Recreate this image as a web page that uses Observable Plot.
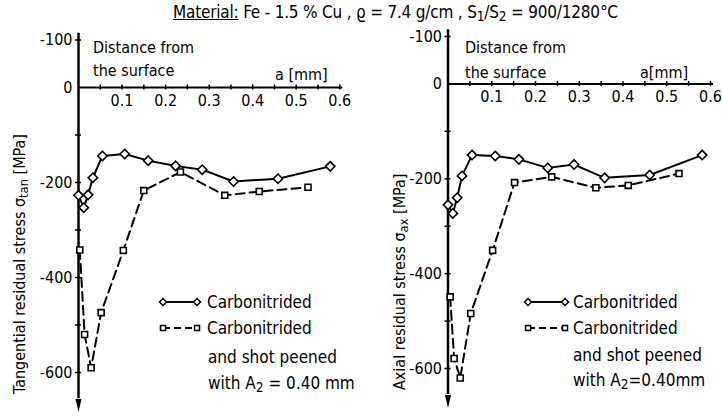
<!DOCTYPE html>
<html><head><meta charset="utf-8">
<script src="https://cdn.jsdelivr.net/npm/d3@7"></script>
<script src="https://cdn.jsdelivr.net/npm/@observablehq/plot@0.6"></script>
<style>
body{margin:0;background:#fff;}
#wrap{position:relative;width:723px;height:419px;overflow:hidden;background:#fff;font-family:"DejaVu Sans Condensed","DejaVu Sans",sans-serif;color:#000;}
.t{position:absolute;white-space:nowrap;font-size:16px;line-height:1;}
.rot{transform-origin:0 0;transform:rotate(-90deg);}
sub{font-size:0.8em;vertical-align:-0.25em;line-height:0;}
.panel{position:absolute;top:25px;}
.panel svg{overflow:visible;}
</style>
</head><body>
<div id="wrap"></div>
<script>
// ---- data ----
const distTanC = [0.000,0.012,0.022,0.033,0.055,0.106,0.160,0.223,0.284,0.356,0.458,0.578];
const tanC     = [-227,-253,-226,-190,-144,-140,-154,-165,-173,-198,-192,-166];
const distTanP = [0.003,0.014,0.029,0.052,0.103,0.150,0.234,0.336,0.415,0.527];
const tanP     = [-342,-520,-590,-474,-343,-217,-178,-227,-219,-210];
const distAxC  = [0.000,0.011,0.021,0.032,0.055,0.108,0.162,0.228,0.288,0.358,0.461,0.581];
const axC      = [-255,-273,-240,-194,-150,-152,-159,-177,-170,-198,-192,-150];
const distAxP  = [0.005,0.014,0.028,0.052,0.102,0.152,0.237,0.338,0.412,0.528];
const axP      = [-449,-579,-620,-484,-351,-208,-196,-219,-214,-189];
const xTicks   = [0.05,0.1,0.15,0.2,0.25,0.3,0.35,0.4,0.45,0.5,0.55,0.6];
const xLabels  = [0.1,0.2,0.3,0.4,0.5,0.6];
const yTicks   = [100,-100,-200,-300,-400,-500,-600];
const yLabelValues = [100,0,-200,-400,-600];
const yLabelTexts  = ["-100","0","-200","-400","-600"];
const seriesNames = ["Carbonitrided","Carbonitrided"];

const FONT = '"DejaVu Sans Condensed","DejaVu Sans",sans-serif';
const arrowSym = {draw(ctx, size){const r=Math.sqrt(size/Math.PI);ctx.moveTo(0,r*2);ctx.lineTo(-r*0.6,-r*0.6);ctx.lineTo(r*0.6,-r*0.6);ctx.closePath();}};

function pts(xs, ys){ return xs.map((x,i)=>({x, y: ys[i]})); }

function panel(c, p, m){
  const C = pts(c[0], c[1]), P = pts(p[0], p[1]);
  const YL = yLabelValues.map((v,i)=>({v, t: yLabelTexts[i]}));
  return Plot.plot({
    width: m.width, height: m.height,
    marginLeft: m.ml, marginRight: m.mr, marginTop: m.mt, marginBottom: m.mb,
    x: {domain:[0,0.6], axis:null},
    y: {domain:[-600,100], axis:null},
    style: {fontFamily: FONT, fontSize: "15px", background: "transparent", color:"#000"},
    marks: [
      Plot.ruleY([0], {x1:0, x2:0.607, strokeWidth:2, stroke:"#000"}),
      Plot.ruleX(xTicks, {x:d=>d, y1:0, y2:0, insetTop:-2.5, insetBottom:-2.5, strokeWidth:1.5, stroke:"#000"}),
      Plot.text(xLabels, {x:d=>d, y:0, dy:13, text:d=>d.toFixed(1), fontSize:16}),
      Plot.ruleX([0], {y1:114, y2:-655, strokeWidth:2.5, stroke:"#000"}),
      Plot.dot([0], {x:0, y:-662, symbol:arrowSym, r:5, fill:"#000", stroke:"none"}),
      Plot.ruleY(yTicks, {y:d=>d, x1:0, x2:0, insetLeft:-3, insetRight:-3, strokeWidth:1.5, stroke:"#000"}),
      Plot.text(YL, {x:0, y:"v", dx:-6, textAnchor:"end", text:"t", fontSize:16}),
      Plot.line(P, {x:"x", y:"y", stroke:"#000", strokeWidth:2, strokeDasharray:"9,5"}),
      Plot.line(C, {x:"x", y:"y", stroke:"#000", strokeWidth:2}),
      Plot.dot(P, {x:"x", y:"y", symbol:"square2", r:3.8, stroke:"#000", strokeWidth:1.6, fill:"#fff"}),
      Plot.dot(C, {x:"x", y:"y", symbol:"diamond2", r:4.2, stroke:"#000", strokeWidth:1.6, fill:"#fff"})
    ]
  });
}

const wrap = document.getElementById("wrap");
function addText(html, left, cy, cls, size){
  const d = document.createElement("div");
  d.className = "t" + (cls ? " " + cls : "");
  d.innerHTML = html;
  const fs = size || 16;
  d.style.fontSize = fs + "px";
  d.style.left = left + "px";
  d.style.top = (cls === "rot" ? cy : (cy - fs*0.5)) + "px";
  wrap.appendChild(d);
  return d;
}

// title
const ttl = addText('<span style="text-decoration:underline">Material:</span> Fe - 1.5 % Cu , ϱ = 7.4 g/cm , S<sub>1</sub>/S<sub>2</sub> = 900/1280°C', 173, 12, null, 17);
ttl.style.letterSpacing = "-0.2px";

// left panel
const L = document.createElement("div"); L.className = "panel"; L.style.left = "0px";
L.appendChild(panel([distTanC, tanC], [distTanP, tanP], {width:362, height:394, ml:78, mr:22.7, mt:14.5, mb:47}));
wrap.appendChild(L);
// right panel
const R = document.createElement("div"); R.className = "panel"; R.style.left = "362px";
R.appendChild(panel([distAxC, axC], [distAxP, axP], {width:361, height:394, ml:85.5, mr:13, mt:11, mb:51}));
wrap.appendChild(R);

// axis titles
addText('Tangential residual stress σ<sub>tan</sub> [MPa]', 12, 394, "rot", 16);
addText('Axial residual stress σ<sub>ax</sub> [MPa]', 392, 390, "rot", 16);

// annotations
addText('Distance from', 93, 48); addText('the surface', 93, 71); addText('a [mm]', 275, 75);
addText('Distance from', 465, 48); addText('the surface', 465, 73); addText('a[mm]', 640, 73);

// legends
function legendSwatch(x1, x2, y, dashed){
  const ns = "http://www.w3.org/2000/svg";
  const s = document.createElementNS(ns, "svg");
  s.setAttribute("width", x2 - x1 + 12); s.setAttribute("height", 12);
  s.style.position = "absolute"; s.style.left = (x1 - 6) + "px"; s.style.top = (y - 6) + "px"; s.style.overflow = "visible";
  const ln = document.createElementNS(ns, "line");
  ln.setAttribute("x1", 6); ln.setAttribute("x2", x2 - x1 + 6); ln.setAttribute("y1", 6); ln.setAttribute("y2", 6);
  ln.setAttribute("stroke", "#000"); ln.setAttribute("stroke-width", 2);
  if (dashed) ln.setAttribute("stroke-dasharray", "7,4");
  s.appendChild(ln);
  for (const cx of [6, x2 - x1 + 6]) {
    const m = document.createElementNS(ns, dashed ? "rect" : "path");
    if (dashed) { m.setAttribute("x", cx - 2.5); m.setAttribute("y", 3.5); m.setAttribute("width", 5); m.setAttribute("height", 5); }
    else m.setAttribute("d", `M${cx},2.5L${cx+3.5},6L${cx},9.5L${cx-3.5},6Z`);
    m.setAttribute("fill", "#fff"); m.setAttribute("stroke", "#000"); m.setAttribute("stroke-width", 1.5);
    s.appendChild(m);
  }
  wrap.appendChild(s);
}
legendSwatch(163, 197, 302, false); legendSwatch(163, 197, 328, true);
addText(seriesNames[0], 207, 302, null, 17); addText(seriesNames[1], 207, 328, null, 17);
addText('and shot peened', 208, 357, null, 17); addText('with A<sub>2</sub> = 0.40 mm', 208, 383, null, 17);
legendSwatch(528, 565, 302, false); legendSwatch(528, 565, 328, true);
addText(seriesNames[0], 573, 302, null, 17); addText(seriesNames[1], 573, 328, null, 17);
addText('and shot peened', 573, 355, null, 17); addText('with A<sub>2</sub>=0.40mm', 573, 380, null, 17);
</script>
</body></html>
